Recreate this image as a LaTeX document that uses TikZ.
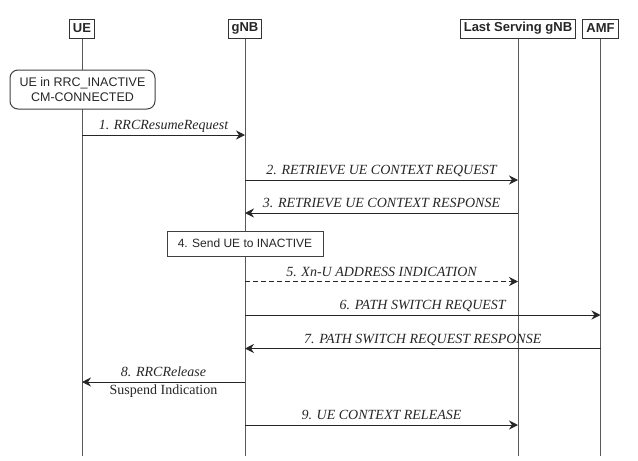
\documentclass[tikz,border=0pt]{standalone}
\usepackage{fontspec}
\setmainfont{Liberation Serif}
\setsansfont{Liberation Sans}
\usetikzlibrary{arrows.meta}

\tikzset{
  entity/.style={draw=black!80, line width=1pt, text=black!85,
    font=\sffamily\bfseries\fontsize{13}{15}\selectfont,
    inner xsep=3.5pt, inner ysep=0pt, minimum height=19pt},
  life/.style={draw=black!65, line width=1pt},
  msg/.style={draw=black!85, line width=1pt,
    -{Stealth[length=9pt,width=9pt,inset=3pt]}},
  lbl/.style={midway, above=5pt, inner sep=0pt, text depth=0pt, text=black!85,
    font=\itshape\fontsize{14}{16}\selectfont},
  sublbl/.style={midway, below=2pt, inner sep=0pt, text=black!85,
    font=\fontsize{14}{16}\selectfont},
  statebox/.style={draw=black!75, line width=1pt, fill=white, rounded corners=8pt,
    align=center, text=black!85, font=\sffamily\fontsize{12.5}{15}\selectfont,
    minimum width=145pt, minimum height=39pt, inner sep=0pt},
  actbox/.style={draw=black!75, line width=1pt, fill=white, text=black!85,
    font=\sffamily\fontsize{12}{14}\selectfont,
    minimum width=156pt, minimum height=25pt, inner sep=0pt}
}

\begin{document}
\begin{tikzpicture}[x=1pt,y=1pt]
			\useasboundingbox (0,0) rectangle (638,-461);

			\node[entity] (UE) at (82,-28.5) {UE};
			\node[entity] (gNB) at (245,-28.5) {gNB};
			\node[entity] (LS) at (518,-28.5) {Last Serving gNB};
			\node[entity] (AMF) at (600.5,-28.5) {AMF};

			\coordinate (bot) at (0,-456);
			\draw[life] (UE.south) -- (UE |- bot);
			\draw[life] (gNB.south) -- (gNB |- bot);
			\draw[life] (LS.south) -- (LS |- bot);
			\draw[life] (AMF.south) -- (AMF |- bot);

			\node[statebox] (st) at (82.5,-89.5) {UE in RRC\_INACTIVE\\CM-CONNECTED};

			\coordinate (m1) at (0,-135);
			\coordinate (m2) at (0,-180);
			\coordinate (m3) at (0,-213);
			\coordinate (m5) at (0,-281.5);
			\coordinate (m6) at (0,-315);
			\coordinate (m7) at (0,-348.5);
			\coordinate (m8) at (0,-382);
			\coordinate (m9) at (0,-425);

			\draw[msg] (UE |- m1) -- (gNB |- m1) node[lbl] {1. RRCResumeRequest};
			\draw[msg] (gNB |- m2) -- (LS |- m2) node[lbl] {2. RETRIEVE UE CONTEXT REQUEST};
			\draw[msg] (LS |- m3) -- (gNB |- m3) node[lbl] {3. RETRIEVE UE CONTEXT RESPONSE};

			\node[actbox] (send) at (245,-243.5) {4. Send UE to INACTIVE};

			\draw[msg, dash pattern=on 5pt off 3pt] (gNB |- m5) -- (LS |- m5) node[lbl] {5. Xn-U ADDRESS INDICATION};
			\draw[msg] (gNB |- m6) -- (AMF |- m6) node[lbl] {6. PATH SWITCH REQUEST};
			\draw[msg] (AMF |- m7) -- (gNB |- m7) node[lbl] {7. PATH SWITCH REQUEST RESPONSE};
			\draw[msg] (gNB |- m8) -- (UE |- m8) node[lbl] {8. RRCRelease}
				node[sublbl] {Suspend Indication};
			\draw[msg] (gNB |- m9) -- (LS |- m9) node[lbl] {9. UE CONTEXT RELEASE};
		\end{tikzpicture}
\end{document}
